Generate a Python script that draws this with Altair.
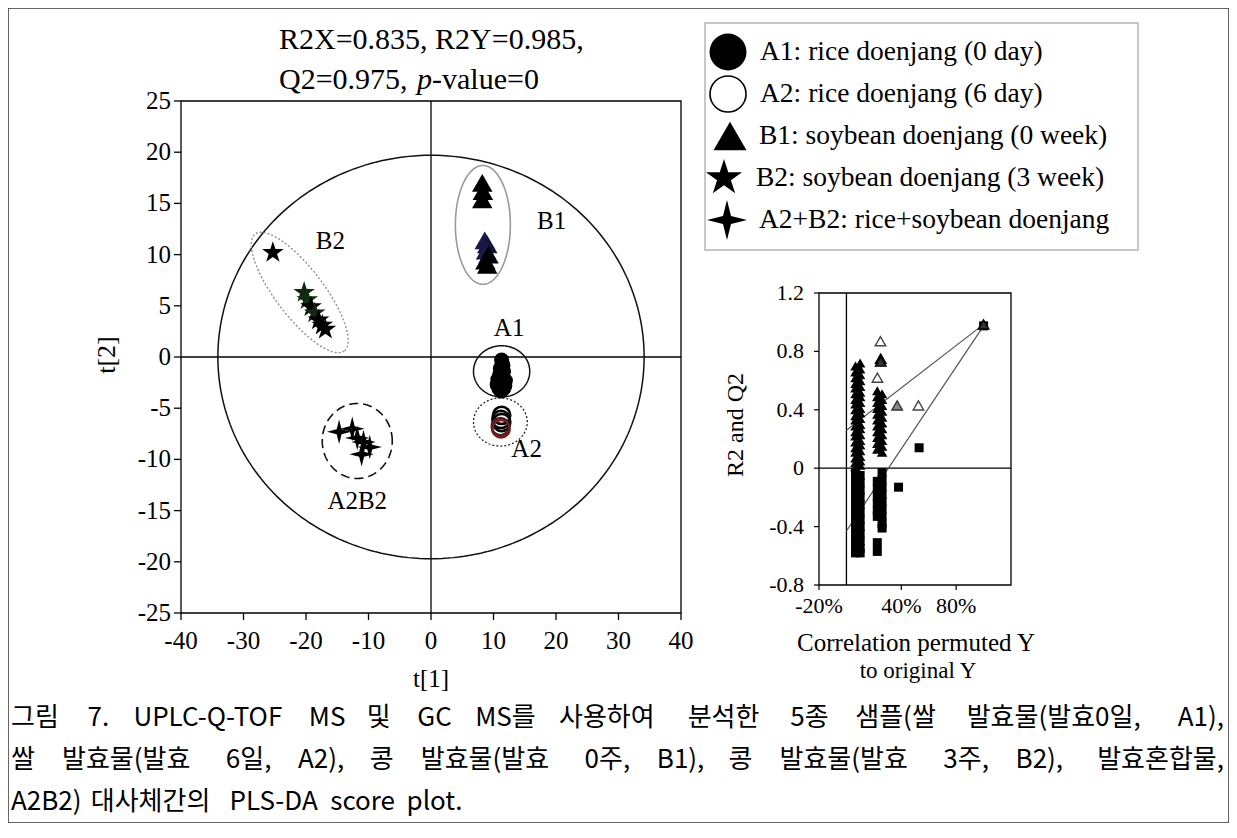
import numpy as np
import pandas as pd
import altair as alt

# ---------------- score plot data: t[1], t[2] ----------------
a1_t1 = [11.3, 11.5, 11.1, 11.6, 11.0, 11.5, 10.7, 11.9, 11.2, 10.6, 11.8, 10.9, 11.6, 11.2]
a1_t2 = [-0.3, -0.8, -1.1, -1.4, -1.7, -2.0, -2.2, -2.3, -2.5, -2.7, -2.8, -3.1, -3.1, -3.3]
a2_t1 = [11.3, 11.2, 11.3, 11.1, 11.2]
a2_t2 = [-5.7, -6.1, -6.4, -6.8, -7.0]
a2_col = ["black", "black", "black", "#5a1a1a", "#6b1f1f"]
b1_t1 = [8.2, 8.3, 8.2, 8.6, 9.0, 8.8, 9.2, 8.7, 9.0]
b1_t2 = [17.0, 16.2, 15.4, 11.4, 11.0, 10.4, 10.0, 9.4, 9.0]
b1_col = ["black", "black", "black", "#1a1a4a", "#14143c", "#1a1a4a", "black", "black", "black"]
b2_t1 = [-25.3, -20.3, -19.8, -19.2, -18.6, -18.0, -17.4, -16.9]
b2_t2 = [10.2, 6.3, 5.6, 4.9, 4.3, 3.6, 3.1, 2.7]
b2_col = ["black", "#0f2a0f", "#102e10", "black", "#0f2a0f", "black", "black", "black"]
ab_t1 = [-14.7, -12.6, -11.8, -10.8, -9.8, -11.1]
ab_t2 = [-7.3, -7.0, -7.9, -8.3, -8.8, -9.5]

# group ellipses (centre, radii in t units)
ell_name = ["T2", "A1", "A2", "B1", "A2B2"]
ell_cx = [0.0, 11.3, 11.1, 8.3, -11.8]
ell_cy = [0.0, -1.4, -6.35, 12.9, -8.2]
ell_rx = [34.1, 4.5, 4.3, 4.4, 5.6]
ell_ry = [19.7, 2.5, 2.35, 5.8, 3.66]
b2_ell_c = [-21.0, 6.3]
b2_ell_semi_px = [73.5, 24.0]
b2_ell_angle = 52.7

clu_text = ["A1", "A2", "B1", "B2", "A2B2"]
clu_t1 = [12.5, 15.3, 19.3, -16.1, -11.8]
clu_t2 = [2.8, -9.0, 13.3, 11.3, -14.1]

main_yticks = [25, 20, 15, 10, 5, 0, -5, -10, -15, -20, -25]
main_ylabels = ["25", "20", "15", "10", "5", "0", "-5", "-10", "-15", "-20", "-25"]
main_xticks = [-40, -30, -20, -10, 0, 10, 20, 30, 40]
main_xlabels = ["-40", "-30", "-20", "-10", "0", "10", "20", "30", "40"]

# ---------------- permutation plot data ----------------
r2_col1a_y = [0.70, 0.66, 0.62, 0.58, 0.55, 0.51, 0.47, 0.44, 0.40, 0.36, 0.33, 0.29, 0.25, 0.22, 0.18, 0.14, 0.11, 0.07, 0.04, 0.01]
r2_col1b_y = [0.72, 0.68, 0.64, 0.60, 0.56, 0.52, 0.49, 0.45, 0.41, 0.38, 0.34, 0.30, 0.27, 0.23, 0.19, 0.16, 0.12, 0.08, 0.05, 0.02]
r2_col2a_y = [0.53, 0.49, 0.45, 0.41, 0.37, 0.33, 0.29, 0.25, 0.21, 0.17, 0.13]
r2_col2b_y = [0.51, 0.47, 0.43, 0.39, 0.35, 0.31, 0.27, 0.23, 0.19, 0.15, 0.11]
r2_col_x = [0.066, 0.10, 0.225, 0.26]
r2_out_x = [0.248, 0.25, 0.25, 0.226, 0.37, 0.525, 1.0]
r2_out_y = [0.87, 0.75, 0.73, 0.62, 0.43, 0.43, 0.985]
r2_out_kind = ["open", "dark", "dark", "open", "grey", "open", "dark"]

q2_col1a_y = [-0.03, -0.08, -0.13, -0.18, -0.23, -0.28, -0.33, -0.38, -0.43, -0.48, -0.53, -0.58]
q2_col1b_y = [-0.05, -0.10, -0.15, -0.20, -0.25, -0.30, -0.35, -0.40, -0.45, -0.50, -0.55, -0.58]
q2_col2a_y = [-0.09, -0.14, -0.19, -0.24, -0.29, -0.33]
q2_col2b_y = [-0.03, -0.08, -0.13, -0.18, -0.23, -0.28, -0.33, -0.38, -0.41]
q2_col_x = [0.066, 0.10, 0.225, 0.26]
q2_out_x = [0.225, 0.225, 0.38, 0.53, 1.0]
q2_out_y = [-0.51, -0.57, -0.13, 0.14, 0.975]

r2_line_x = [0.0, 1.0]
r2_line_y = [0.26, 0.985]
q2_line_x = [0.0, 1.0]
q2_line_y = [-0.43, 0.975]

inset_yticks = [1.2, 0.8, 0.4, 0.0, -0.4, -0.8]
inset_ylabels = ["1.2", "0.8", "0.4", "0", "-0.4", "-0.8"]
inset_xticks = [-0.2, 0.4, 0.8]
inset_xlabels = ["-20%", "40%", "80%"]

legend_labels = ["A1: rice doenjang (0 day)", "A2: rice doenjang (6 day)",
                 "B1: soybean doenjang  (0 week)", "B2: soybean doenjang  (3 week)",
                 "A2+B2: rice+soybean doenjang"]

title_1 = "R2X=0.835, R2Y=0.985,"
title_2a = "Q2=0.975,"
title_2b = "p"
title_2c = "-value=0"

caption_lines = [
    "그림 7. UPLC-Q-TOF MS 및 GC MS를 사용하여 분석한 5종 샘플(쌀 발효물(발효0일, A1),",
    "쌀 발효물(발효 6일, A2), 콩 발효물(발효 0주, B1), 콩 발효물(발효 3주, B2), 발효혼합물,",
    "A2B2) 대사체간의 PLS-DA score plot.",
]

# ---------------- layout ----------------
OFF = 8
W, H = 1221, 815


def P(v):
    return v - OFF


SERIF = "Liberation Serif"
KR = "Noto Sans CJK KR"

XM = alt.Scale(domain=[-40, 40], range=[P(181), P(681)], nice=False, zero=False)
YM = alt.Scale(domain=[-25, 25], range=[P(613), P(101)], nice=False, zero=False)
XI = alt.Scale(domain=[-0.2, 1.2], range=[P(819), P(1011)], nice=False, zero=False)
YI = alt.Scale(domain=[-0.8, 1.2], range=[P(585), P(293)], nice=False, zero=False)
XP = alt.Scale(domain=[0, W], range=[0, W], nice=False, zero=False)
YP = alt.Scale(domain=[0, H], range=[0, H], nice=False, zero=False)
PXU = 500 / 80.0   # px per t[1] unit
PYU = 512 / 50.0   # px per t[2] unit

STAR = "M0,-1L0.2245,-0.309L0.951,-0.309L0.3633,0.118L0.588,0.809L0,0.382L-0.588,0.809L-0.3633,0.118L-0.951,-0.309L-0.2245,-0.309Z"
SPARK = "M0,-1L0.2,-0.2L1,0L0.2,0.2L0,1L-0.2,0.2L-1,0L-0.2,-0.2Z"


def enc(xs, ys, xf="x", yf="y"):
    return {"x": alt.X(f"{xf}:Q", scale=xs, axis=None),
            "y": alt.Y(f"{yf}:Q", scale=ys, axis=None)}


def box(x0, x1, y0, y1, xs, ys, stroke="black", sw=1.3):
    df = pd.DataFrame({"x": [x0], "x2": [x1], "y": [y0], "y2": [y1]})
    return alt.Chart(df).mark_rect(fillOpacity=0, stroke=stroke, strokeWidth=sw).encode(
        **enc(xs, ys), x2="x2:Q", y2="y2:Q")


def seg(xa, ya, xs, ys, color="black", sw=1.3, dash=None):
    df = pd.DataFrame({"x": xa, "y": ya, "k": list(range(len(xa)))})
    kw = dict(color=color, strokeWidth=sw)
    if dash:
        kw["strokeDash"] = dash
    return alt.Chart(df).mark_line(**kw).encode(**enc(xs, ys), order="k:Q")


def ellipse(cx, cy, rx, ry, color="black", sw=1.3, dash=None):
    t = np.linspace(0, 2 * np.pi, 241)
    return seg(list(cx + rx * np.cos(t)), list(cy + ry * np.sin(t)), XM, YM, color, sw, dash)


def pts(x, y, xs, ys, col=None, **mk):
    df = pd.DataFrame({"x": x, "y": y})
    e = enc(xs, ys)
    if col is not None:
        df["c"] = col
        e["color"] = alt.Color("c:N", scale=None, legend=None)
    return alt.Chart(df).mark_point(opacity=1, **mk).encode(**e)


def vtext(s, x, y, size, align="left", angle=None, font=SERIF, italic=False):
    df = pd.DataFrame({"t": [s]})
    mk = dict(align=align, baseline="middle", fontSize=size, font=font, color="black")
    if angle is not None:
        mk["angle"] = angle
    if italic:
        mk["fontStyle"] = "italic"
    return alt.Chart(df).mark_text(**mk).encode(text="t:N", x=alt.value(x), y=alt.value(y))


layers = []

# ---- main score plot ----
layers.append(box(-40, 40, -25, 25, XM, YM))
layers.append(seg([-40, 40], [0, 0], XM, YM))
layers.append(seg([0, 0], [-25, 25], XM, YM))
layers.append(ellipse(ell_cx[0], ell_cy[0], ell_rx[0], ell_ry[0], "#111", 1.5))
layers.append(ellipse(ell_cx[1], ell_cy[1], ell_rx[1], ell_ry[1], "#111", 1.5))
layers.append(ellipse(ell_cx[2], ell_cy[2], ell_rx[2], ell_ry[2], "#222", 1.3, [2, 2]))
layers.append(ellipse(ell_cx[3], ell_cy[3], ell_rx[3], ell_ry[3], "#9a9a9a", 1.6))
layers.append(ellipse(ell_cx[4], ell_cy[4], ell_rx[4], ell_ry[4], "#111", 1.6, [9, 5]))
_t = np.linspace(0, 2 * np.pi, 241)
_th = np.deg2rad(b2_ell_angle)
_a, _b = b2_ell_semi_px
_bx = list(b2_ell_c[0] + (_a * np.cos(_t) * np.cos(_th) - _b * np.sin(_t) * np.sin(_th)) / PXU)
_by = list(b2_ell_c[1] - (_a * np.cos(_t) * np.sin(_th) + _b * np.sin(_t) * np.cos(_th)) / PYU)
layers.append(seg(_bx, _by, XM, YM, "#8a8a8a", 1.3, [2, 2]))

layers.append(alt.Chart(pd.DataFrame({"v": main_yticks})).mark_rule(color="black", strokeWidth=1.3).encode(
    y=alt.Y("v:Q", scale=YM, axis=None), x=alt.value(P(174)), x2=alt.value(P(181))))
layers.append(alt.Chart(pd.DataFrame({"v": main_xticks})).mark_rule(color="black", strokeWidth=1.3).encode(
    x=alt.X("v:Q", scale=XM, axis=None), y=alt.value(P(613)), y2=alt.value(P(620))))
layers.append(alt.Chart(pd.DataFrame({"v": main_yticks, "t": main_ylabels})).mark_text(
    align="right", baseline="middle", font=SERIF, fontSize=25, color="black").encode(
    y=alt.Y("v:Q", scale=YM, axis=None), x=alt.value(P(171)), text="t:N"))
layers.append(alt.Chart(pd.DataFrame({"v": main_xticks, "t": main_xlabels})).mark_text(
    align="center", baseline="middle", font=SERIF, fontSize=25, color="black").encode(
    x=alt.X("v:Q", scale=XM, axis=None), y=alt.value(P(641)), text="t:N"))

layers.append(pts(a1_t1, a1_t2, XM, YM, shape="circle", size=230, filled=True, color="black"))
layers.append(pts(a2_t1, a2_t2, XM, YM, col=a2_col, shape="circle", size=300, filled=False, strokeWidth=2.6))
layers.append(pts(b1_t1, b1_t2, XM, YM, col=b1_col, shape="triangle-up", size=420, filled=True))
layers.append(pts(b2_t1, b2_t2, XM, YM, col=b2_col, shape=STAR, size=520, filled=True))
layers.append(pts(ab_t1, ab_t2, XM, YM, shape=SPARK, size=600, filled=True, color="black"))

layers.append(alt.Chart(pd.DataFrame({"x": clu_t1, "y": clu_t2, "t": clu_text})).mark_text(
    align="center", baseline="middle", font=SERIF, fontSize=25, color="black").encode(
    **enc(XM, YM), text="t:N"))

layers.append(vtext(title_1, P(279), P(40), 30))
layers.append(vtext(title_2a, P(279), P(80), 30))
layers.append(vtext(title_2b, P(417), P(80), 30, italic=True))
layers.append(vtext(title_2c, P(432), P(80), 30))
layers.append(vtext("t[2]", P(107), P(355), 26, align="center", angle=270))
layers.append(vtext("t[1]", P(431), P(679), 25, align="center"))

# ---- legend ----
LEG_Y = [52, 94, 136, 178, 220]
layers.append(alt.Chart(pd.DataFrame({"x": [P(705)], "x2": [P(1138)], "y": [P(23)], "y2": [P(250)]})).mark_rect(
    fillOpacity=0, stroke="#b5b5b5", strokeWidth=1.5).encode(
    x=alt.X("x:Q", scale=XP, axis=None), x2="x2:Q", y=alt.Y("y:Q", scale=YP, axis=None), y2="y2:Q"))
leg_shapes = [("circle", 1369, True, 728), ("circle", 1300, False, 728), ("triangle-up", 1089, True, 730),
              (STAR, 1444, True, 724), (SPARK, 1600, True, 727)]
for i, (shp, sz, fil, xx) in enumerate(leg_shapes):
    df = pd.DataFrame({"k": [legend_labels[i]]})
    mk = dict(shape=shp, size=sz, filled=fil, color="black", opacity=1)
    if not fil:
        mk["strokeWidth"] = 1.6
    layers.append(alt.Chart(df).mark_point(**mk).encode(x=alt.value(P(xx)), y=alt.value(P(LEG_Y[i]))))
leg_tx = [760, 760, 759, 756, 759]
for i, s in enumerate(legend_labels):
    layers.append(vtext(s, P(leg_tx[i]), P(LEG_Y[i]), 27.5))

# ---- permutation inset ----
layers.append(box(-0.2, 1.2, -0.8, 1.2, XI, YI))
layers.append(seg([-0.2, 1.2], [0, 0], XI, YI))
layers.append(seg([0, 0], [-0.8, 1.2], XI, YI))
layers.append(alt.Chart(pd.DataFrame({"v": inset_yticks})).mark_rule(color="black", strokeWidth=1.2).encode(
    y=alt.Y("v:Q", scale=YI, axis=None), x=alt.value(P(814)), x2=alt.value(P(819))))
layers.append(alt.Chart(pd.DataFrame({"v": inset_xticks})).mark_rule(color="black", strokeWidth=1.2).encode(
    x=alt.X("v:Q", scale=XI, axis=None), y=alt.value(P(585)), y2=alt.value(P(590))))
layers.append(alt.Chart(pd.DataFrame({"v": inset_yticks, "t": inset_ylabels})).mark_text(
    align="right", baseline="middle", font=SERIF, fontSize=22, color="black").encode(
    y=alt.Y("v:Q", scale=YI, axis=None), x=alt.value(P(804)), text="t:N"))
layers.append(alt.Chart(pd.DataFrame({"v": inset_xticks, "t": inset_xlabels})).mark_text(
    align="center", baseline="middle", font=SERIF, fontSize=22, color="black").encode(
    x=alt.X("v:Q", scale=XI, axis=None), y=alt.value(P(606)), text="t:N"))
layers.append(seg(r2_line_x, r2_line_y, XI, YI, "#555", 1.2))
layers.append(seg(q2_line_x, q2_line_y, XI, YI, "#555", 1.2))

q2x = ([q2_col_x[0]] * len(q2_col1a_y) + [q2_col_x[1]] * len(q2_col1b_y)
       + [q2_col_x[2]] * len(q2_col2a_y) + [q2_col_x[3]] * len(q2_col2b_y) + q2_out_x)
q2y = q2_col1a_y + q2_col1b_y + q2_col2a_y + q2_col2b_y + q2_out_y
layers.append(pts(q2x, q2y, XI, YI, shape="square", size=81, filled=True, color="black"))

r2x = ([r2_col_x[0]] * len(r2_col1a_y) + [r2_col_x[1]] * len(r2_col1b_y)
       + [r2_col_x[2]] * len(r2_col2a_y) + [r2_col_x[3]] * len(r2_col2b_y))
r2y = r2_col1a_y + r2_col1b_y + r2_col2a_y + r2_col2b_y
layers.append(pts(r2x, r2y, XI, YI, shape="triangle-up", size=110, filled=True, color="black"))
for kind, fill, stroke in [("open", "white", "#444"), ("grey", "#888", "#333"), ("dark", "#333", "black")]:
    kx = [x for x, k in zip(r2_out_x, r2_out_kind) if k == kind]
    ky = [y for y, k in zip(r2_out_y, r2_out_kind) if k == kind]
    layers.append(alt.Chart(pd.DataFrame({"x": kx, "y": ky})).mark_point(
        shape="triangle-up", size=110, fill=fill, stroke=stroke, strokeWidth=1.4, opacity=1,
        fillOpacity=1).encode(**enc(XI, YI)))

layers.append(vtext("R2 and Q2", P(736), P(425), 24, align="center", angle=270))
layers.append(vtext("Correlation permuted Y", P(916), P(643), 25, align="center"))
layers.append(vtext("to original Y", P(918), P(671), 23, align="center"))

# ---- caption (justified lines, last word anchored right) ----


def est_w(s, fs):
    w = 0.0
    for ch in s:
        o = ord(ch)
        if 0xAC00 <= o <= 0xD7A3:
            w += 1.0
        elif ch == " ":
            w += 0.224
        elif ch in ".,":
            w += 0.26
        elif ch in "()":
            w += 0.34
        elif ch == "-":
            w += 0.34
        elif ch.isdigit():
            w += 0.555
        elif ch.isupper():
            w += 0.64
        else:
            w += 0.52
    return w * fs


CAP_FS = 26
CAP_Y = [718, 760, 802]
CAP_X0, CAP_X1 = 3, W - 5
rows = []
for li, line in enumerate(caption_lines):
    words = line.split(" ")
    widths = [est_w(w, CAP_FS) for w in words]
    if li < 2:
        gap = (CAP_X1 - CAP_X0 - sum(widths)) / (len(words) - 1)
    else:
        gap = est_w(" ", CAP_FS) * 1.5
    x = CAP_X0
    for j, (w, wd) in enumerate(zip(words, widths)):
        if li < 2 and j == len(words) - 1:
            rows.append({"px": CAP_X1, "py": P(CAP_Y[li]), "t": w, "al": "right"})
        else:
            rows.append({"px": x, "py": P(CAP_Y[li]), "t": w, "al": "left"})
        x += wd + gap
cap_df = pd.DataFrame(rows)
for al in ["left", "right"]:
    layers.append(alt.Chart(cap_df[cap_df["al"] == al]).mark_text(
        align=al, baseline="middle", font=KR, fontSize=CAP_FS, color="black").encode(
        x=alt.X("px:Q", scale=XP, axis=None), y=alt.Y("py:Q", scale=YP, axis=None), text="t:N"))

chart = alt.layer(*layers).resolve_scale(x="independent", y="independent").properties(
    width=W, height=H, autosize=alt.AutoSizeParams(type="none"), padding=0, background="white"
).configure_view(stroke="#333", strokeWidth=1.5)

chart.save("out.html", embed_options={"renderer": "svg", "actions": False})
